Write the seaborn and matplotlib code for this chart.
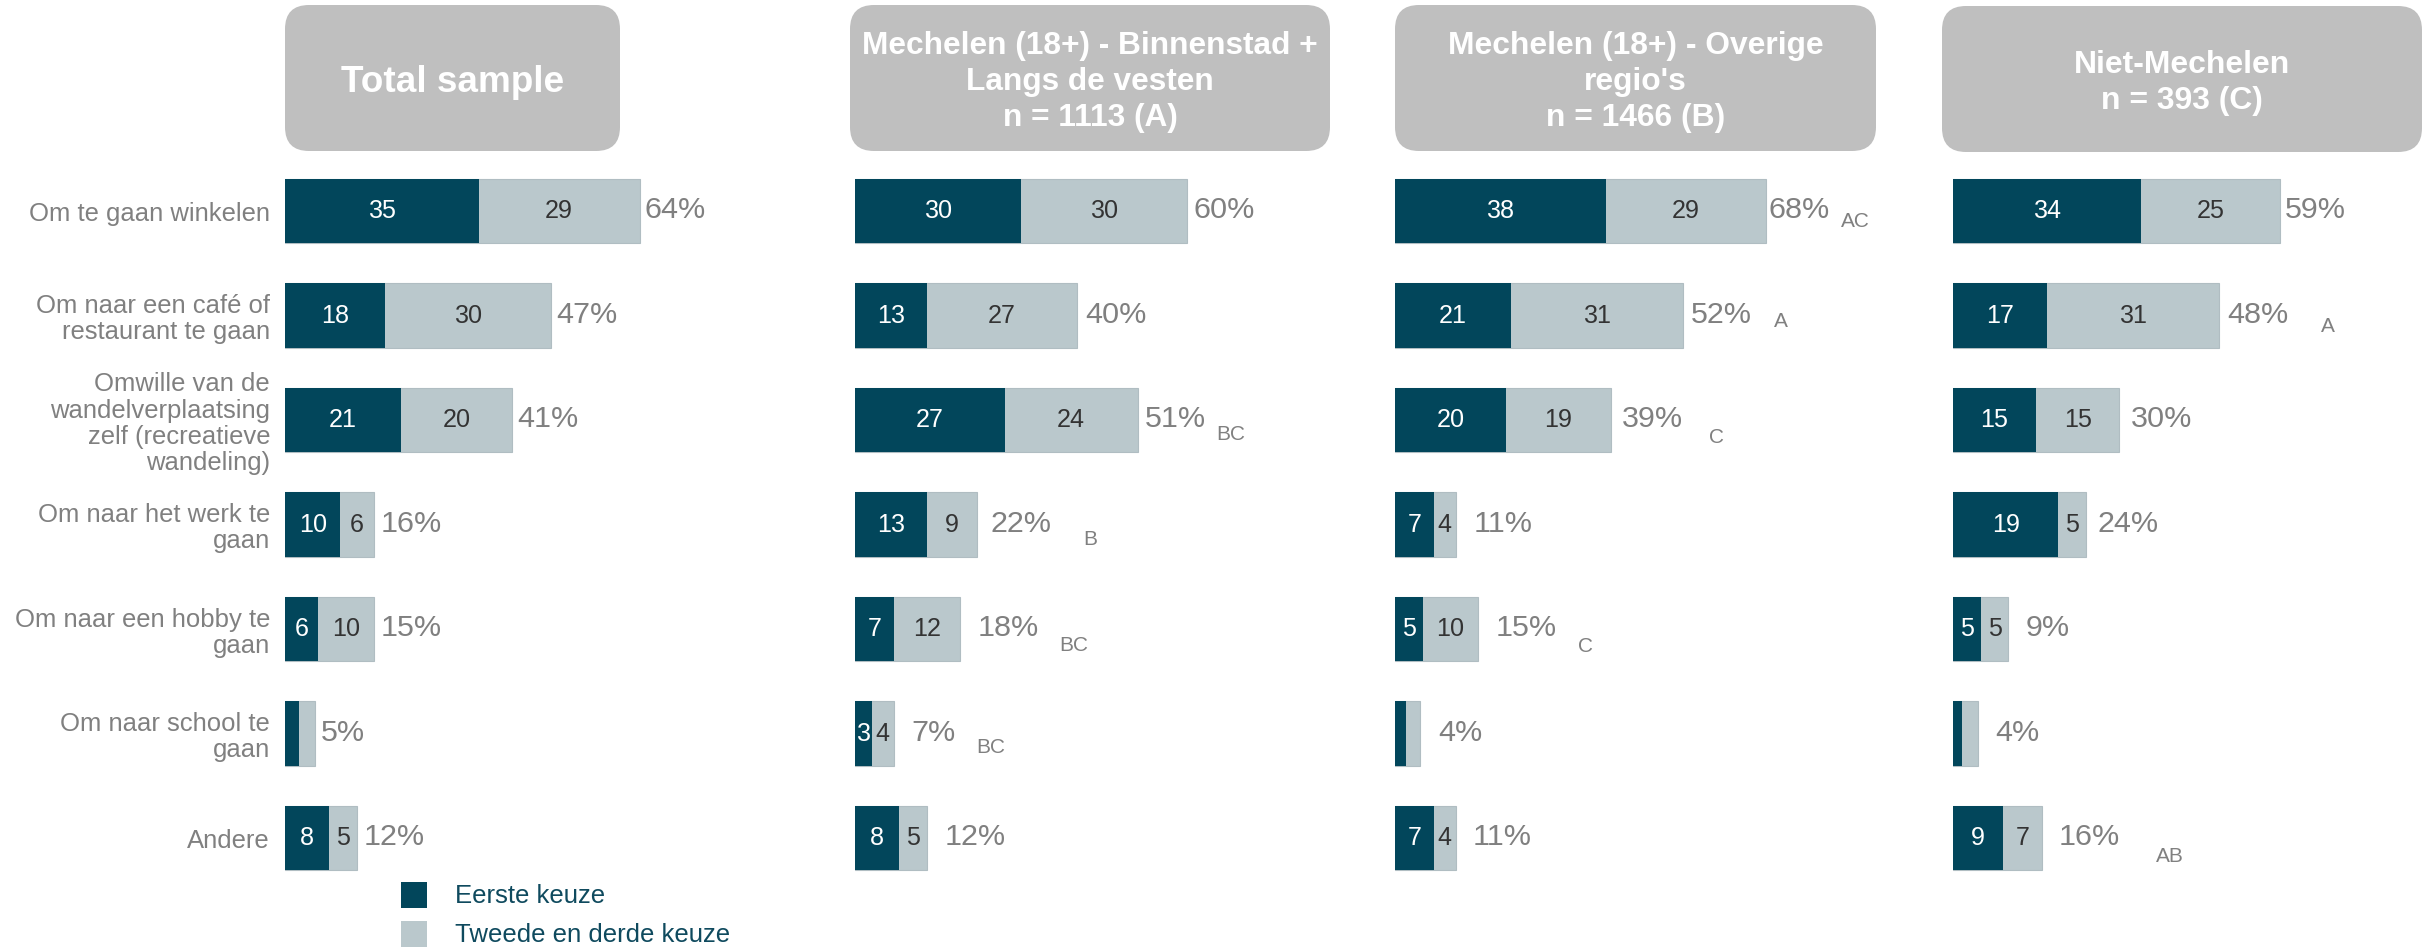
import numpy as np
import pandas as pd
import matplotlib
matplotlib.use("Agg")
import matplotlib.pyplot as plt
from matplotlib import font_manager
from matplotlib.patches import FancyBboxPatch, Rectangle
import seaborn as sns

# ---------------- data ----------------
categories = [
    "Om te gaan winkelen",
    "Om naar een café of\nrestaurant te gaan",
    "Omwille van de\nwandelverplaatsing\nzelf (recreatieve\nwandeling)",
    "Om naar het werk te\ngaan",
    "Om naar een hobby te\ngaan",
    "Om naar school te\ngaan",
    "Andere",
]
panel_titles = [
    "Total sample",
    "Mechelen (18+) - Binnenstad +\nLangs de vesten\nn = 1113 (A)",
    "Mechelen (18+) - Overige\nregio's\nn = 1466 (B)",
    "Niet-Mechelen\nn = 393 (C)",
]
series_names = ["Eerste keuze", "Tweede en derde keuze"]

first_total = [35, 18, 21, 10, 6, 2.5, 8]
second_total = [29, 30, 20, 6, 10, 3.0, 5]
pct_total = [64, 47, 41, 16, 15, 5, 12]
sig_total = ["", "", "", "", "", "", ""]

first_A = [30, 13, 27, 13, 7, 3, 8]
second_A = [30, 27, 24, 9, 12, 4, 5]
pct_A = [60, 40, 51, 22, 18, 7, 12]
sig_A = ["", "", "BC", "B", "BC", "BC", ""]

first_B = [38, 21, 20, 7, 5, 2.0, 7]
second_B = [29, 31, 19, 4, 10, 2.6, 4]
pct_B = [68, 52, 39, 11, 15, 4, 11]
sig_B = ["AC", "A", "C", "", "C", "", ""]

first_C = [34, 17, 15, 19, 5, 1.7, 9]
second_C = [25, 31, 15, 5, 5, 2.9, 7]
pct_C = [59, 48, 30, 24, 9, 4, 16]
sig_C = ["", "A", "", "", "", "", "AB"]

panels = [
    (first_total, second_total, pct_total, sig_total),
    (first_A, second_A, pct_A, sig_A),
    (first_B, second_B, pct_B, sig_B),
    (first_C, second_C, pct_C, sig_C),
]

# ---------------- style / layout ----------------
DARK = "#02465B"
LIGHT = "#BAC8CC"
GRAY = "#808080"
HEADER = "#BFBFBF"
LEGEND_TXT = "#0F4A5E"

sns.set_style("white")
avail = {f.name for f in font_manager.fontManager.ttflist}
candidates = ["Liberation Sans", "Arimo", "DejaVu Sans"]
main = next((c for c in candidates if c in avail), "DejaVu Sans")
FAM = [main, "DejaVu Sans"]
plt.rcParams["font.family"] = FAM

W, H = 2431, 948
fig = plt.figure(figsize=(W / 100, H / 100), dpi=100)
renderer = fig.canvas.get_renderer()


def fit_size(s, target_px, weight="normal", base=20.0):
    """font size (pt) giving the reference pixel width for string s"""
    t = fig.text(0, 0, s, fontsize=base, fontweight=weight)
    w = t.get_window_extent(renderer).width
    t.remove()
    return base * target_px / w


def spacing_for(step_px, size, weight="normal"):
    """linespacing value giving a baseline-to-baseline step of step_px"""
    t1 = fig.text(0, 0, "Ag", fontsize=size, fontweight=weight, linespacing=1.0)
    t2 = fig.text(0, 0, "Ag\nAg", fontsize=size, fontweight=weight, linespacing=1.0)
    h1 = t1.get_window_extent(renderer).height
    h2 = t2.get_window_extent(renderer).height
    t1.remove()
    t2.remove()
    return step_px / (h2 - h1)


fs_label = fit_size("wandelverplaatsing", 219)
fs_pct = fit_size("52%", 61)
fs_val = fit_size("38", 28)
fs_sig = fit_size("BC", 29)
fs_leg = fit_size("Eerste keuze", 150)
header_sizes = [
    fit_size("Total sample", 222, "bold"),
    fit_size("Mechelen (18+) - Binnenstad +", 455, "bold"),
    fit_size("Mechelen (18+) - Overige", 375, "bold"),
    fit_size("Niet-Mechelen", 216, "bold"),
]
ls_label = spacing_for(27, fs_label)

panel_x0 = [285, 855, 1395, 1953]
SCALE = 5.54  # px per percentage point
XMAX = 80
row_top_px, row_bot_px = 158.75, 890.25
header_boxes = [(285, 5, 620, 151), (850, 5, 1330, 151), (1395, 5, 1876, 151), (1942, 6, 2422, 152)]
pct_gap = [
    [5, 5, 5, 7, 7, 5, 7],
    [6, 9, 7, 14, 17, 18, 18],
    [2, 8, 11, 18, 18, 18, 17],
    [5, 8, 12, 12, 17, 17, 17],
]
PCT_BASE = 7  # pct baseline below row centre (px)
# letter offsets: (gap after % label, baseline drop below % baseline) in pixels
sig_offsets = [
    [None] * 7,
    [None, None, (11, 13), (31, 13), (21, 15), (20, 12), None],
    [(12, 9), (22, 4), (26, 16), None, (21, 16), None, None],
    [None, (33, 9), None, None, None, None, (36, 17)],
]

for p, (first, second, pct, sig) in enumerate(panels):
    x0 = panel_x0[p]
    ax = fig.add_axes([x0 / W, 1 - row_bot_px / H, XMAX * SCALE / W, (row_bot_px - row_top_px) / H])
    ax.patch.set_visible(False)
    df = pd.DataFrame({"cat": categories, "first": first, "second": second})
    df["stack"] = df["first"] + df["second"]
    sns.barplot(data=df, y="cat", x="stack", color=LIGHT, width=0.62, orient="h",
                saturation=1, errorbar=None, ax=ax, edgecolor="#B0BDC2", linewidth=0.8)
    sns.barplot(data=df, y="cat", x="first", color=DARK, width=0.62, orient="h",
                saturation=1, errorbar=None, ax=ax, linewidth=0)
    ax.set_xlim(0, XMAX)
    ax.set_ylim(6.5, -0.5)
    ax.set_xlabel("")
    ax.set_ylabel("")
    ax.set_xticks([])
    for s in ax.spines.values():
        s.set_visible(False)
    if p == 0:
        ax.tick_params(axis="y", length=0, pad=15 * 0.72, labelsize=fs_label, labelcolor=GRAY)
        for lab in ax.get_yticklabels():
            lab.set_linespacing(ls_label)
    else:
        ax.set_yticklabels([])
        ax.tick_params(axis="y", length=0)

    for i in range(len(categories)):
        f, s_, tot = first[i], second[i], first[i] + second[i]
        if f >= 2.95:
            ax.text(f / 2, i, f"{f:.0f}", ha="center", va="center", color="white", fontsize=fs_val)
        if s_ >= 3.05:
            ax.text(f + s_ / 2, i, f"{s_:.0f}", ha="center", va="center", color="#333333", fontsize=fs_val)
        t = ax.annotate(f"{pct[i]}%", xy=(tot, i), xytext=(pct_gap[p][i], -PCT_BASE),
                        textcoords="offset pixels", ha="left", va="baseline", color=GRAY, fontsize=fs_pct)
        if sig[i]:
            dx, dy = sig_offsets[p][i]
            ax.annotate(sig[i], xy=(1, i), xycoords=(t, "data"), xytext=(dx, -PCT_BASE - dy),
                        textcoords="offset pixels", ha="left", va="baseline", color=GRAY, fontsize=fs_sig)

# overlay for headers and legend, in pixel coordinates
ov = fig.add_axes([0, 0, 1, 1], zorder=-1)
ov.set_xlim(0, W)
ov.set_ylim(H, 0)
ov.axis("off")
for (xa, ya, xb, yb), title, fs in zip(header_boxes, panel_titles, header_sizes):
    ov.add_patch(FancyBboxPatch((xa, ya), xb - xa, yb - ya,
                                boxstyle="round,pad=0,rounding_size=24",
                                facecolor=HEADER, edgecolor="none"))
    ov.text((xa + xb) / 2, (ya + yb) / 2 + 4, title, ha="center", va="center", color="white",
            fontsize=fs, fontweight="bold", linespacing=spacing_for(38, fs, "bold"))

legend_colors = [DARK, LIGHT]
for j, (name, col) in enumerate(zip(series_names, legend_colors)):
    y = 882 + j * 39
    ov.add_patch(Rectangle((401, y), 26, 26, facecolor=col, edgecolor="none"))
    ov.text(455, y + 14, name, ha="left", va="center", color=LEGEND_TXT, fontsize=fs_leg)

fig.savefig("out.png", dpi=100)
